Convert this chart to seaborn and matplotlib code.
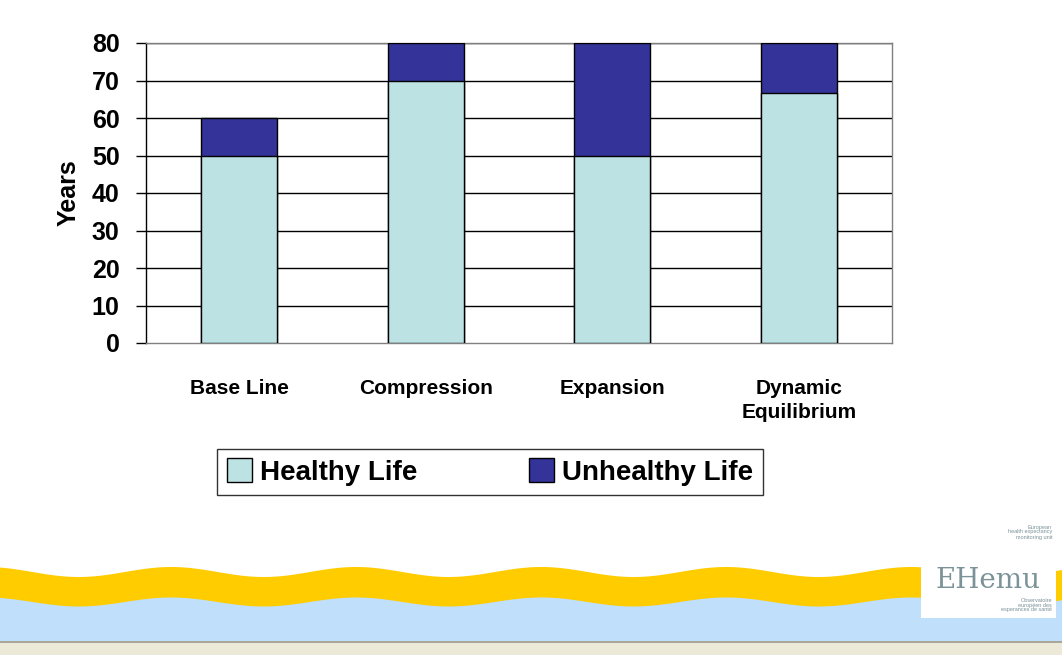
import numpy as np
import pandas as pd
import matplotlib
matplotlib.use("Agg")
import matplotlib.pyplot as plt
import seaborn as sns
from matplotlib.patches import Rectangle

categories = ["Base Line", "Compression", "Expansion", "Dynamic\nEquilibrium"]
healthy = [50, 70, 50, 66.6]
unhealthy = [10, 10, 30, 13.4]
y_ticks = [0, 10, 20, 30, 40, 50, 60, 70, 80]

c_healthy = "#BDE2E4"
c_unhealthy = "#333399"

sns.set_style("white")
plt.rcParams["font.family"] = ["Liberation Sans Narrow", "Liberation Sans", "DejaVu Sans"]
plt.rcParams["font.weight"] = "bold"
plt.rcParams["text.color"] = "black"
plt.rcParams["xtick.color"] = "black"
plt.rcParams["ytick.color"] = "black"
plt.rcParams["axes.labelcolor"] = "black"

df = pd.DataFrame({"cat": categories, "healthy": healthy,
                   "total": np.array(healthy) + np.array(unhealthy)})

fig = plt.figure(figsize=(10.62, 6.55), dpi=100)
fig.patch.set_facecolor("white")

# bottom decoration (waves, status bar)
deco = fig.add_axes([0, 0, 1, 1], zorder=0)
deco.set_xlim(0, 1062)
deco.set_ylim(655, 0)
deco.axis("off")
xx = np.linspace(0, 1062, 600)
yel_top = 572 - 5 * np.sin(2 * np.pi * (xx - 125) / 185)
blue_top = 602 - 4.5 * np.sin(2 * np.pi * (xx - 125) / 185)
deco.fill_between(xx, yel_top, 641, color="#FFCC00", lw=0)
deco.fill_between(xx, blue_top, 641, color="#BFDFFB", lw=0)
deco.add_patch(Rectangle((0, 641), 1062, 14, color="#ECE9D8", lw=0))
deco.plot([0, 1062], [641.5, 641.5], color="#9C9A8F", lw=1.2)
# logo
deco.add_patch(Rectangle((921, 518), 135, 100, color="white", lw=0))
deco.text(988, 580, "EHemu", color="#7A9298", fontsize=20, ha="center", va="center",
          family="DejaVu Serif", weight="normal")
deco.text(1052, 532, "European\nhealth expectancy\nmonitoring unit", color="#7A9298",
          fontsize=4, ha="right", va="center", weight="normal", linespacing=1.0)
deco.text(1052, 605, "Observatoire\neuropéen des\nesperances de santé", color="#7A9298",
          fontsize=4, ha="right", va="center", weight="normal", linespacing=1.0)

ax = fig.add_axes([146 / 1062, 1 - 343 / 655, (892 - 146) / 1062, 300 / 655], zorder=2)
ax.set_facecolor("none")

sns.barplot(data=df, x="cat", y="total", color=c_unhealthy, width=0.41,
            edgecolor="black", linewidth=1, saturation=1, ax=ax, zorder=3)
sns.barplot(data=df, x="cat", y="healthy", color=c_healthy, width=0.41,
            edgecolor="black", linewidth=1, saturation=1, ax=ax, zorder=4)

ax.set_ylim(0, 80)
ax.set_xlim(-0.5, 3.5)
ax.set_yticks(y_ticks)
ax.set_yticklabels([str(v) for v in y_ticks], fontsize=18, weight="bold")
for v in y_ticks[1:]:
    ax.axhline(v, color="black", lw=1, zorder=1)
ax.set_xticks(range(len(categories)))
ax.set_xticklabels(categories, fontsize=15, weight="bold", linespacing=1.3)
ax.set_xticks([-0.5, 0.5, 1.5, 2.5, 3.5], minor=True)
ax.tick_params(axis="x", which="major", length=0, pad=26)
ax.tick_params(axis="x", which="minor", length=7, width=1, color="black", direction="out")
ax.tick_params(axis="y", length=7, width=1, color="black", direction="out", left=True, pad=12)
ax.set_xlabel("")
ax.set_ylabel("Years", fontsize=18, weight="bold", labelpad=8)

for s in ["top", "right", "bottom"]:
    ax.spines[s].set_color("#808080")
    ax.spines[s].set_linewidth(1)
ax.spines["left"].set_color("black")
ax.spines["left"].set_linewidth(1)

handles = [Rectangle((0, 0), 1, 1, facecolor=c_healthy, edgecolor="black", lw=1),
           Rectangle((0, 0), 1, 1, facecolor=c_unhealthy, edgecolor="black", lw=1)]
leg = fig.legend(handles, ["Healthy Life", "Unhealthy Life"], ncol=2,
                 loc="center", bbox_to_anchor=(490 / 1062, 1 - 472 / 655),
                 frameon=True, fancybox=False, edgecolor="black",
                 prop={"size": 20, "weight": "bold"}, handlelength=0.9, handleheight=0.9,
                 handletextpad=0.3, columnspacing=4.0, borderpad=0.35, borderaxespad=0)
leg.get_frame().set_linewidth(1)
leg._legend_box.sep = 0
for t in leg.get_texts():
    t.set_color("black")

fig.savefig("out.png", dpi=100, facecolor="white")
